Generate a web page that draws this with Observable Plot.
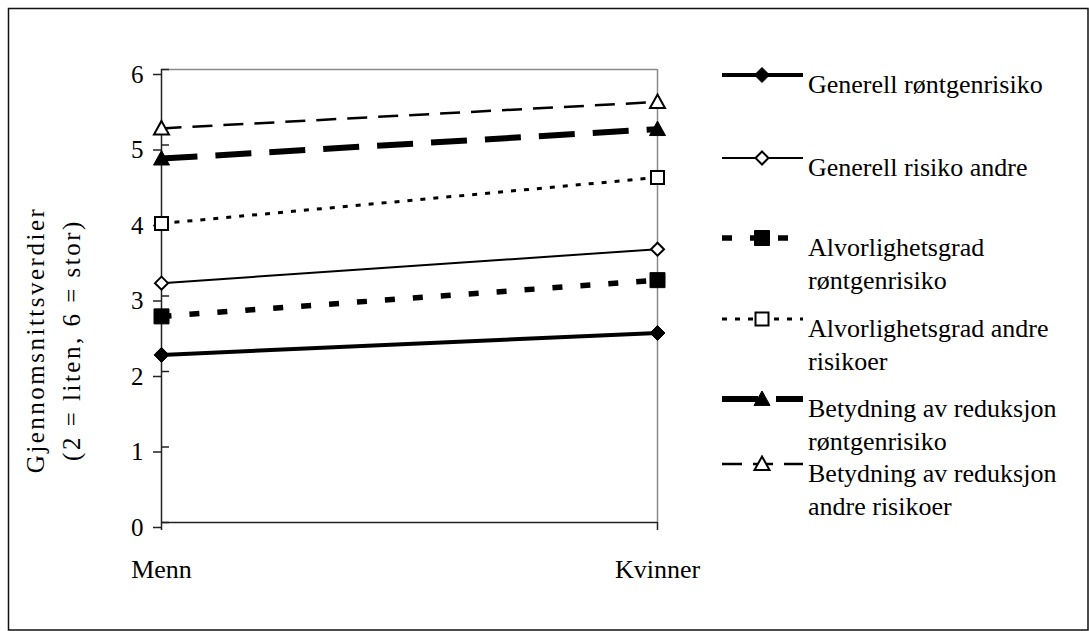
<!DOCTYPE html>
<html>
<head>
<meta charset="utf-8">
<script src="https://cdn.jsdelivr.net/npm/d3@7"></script>
<script src="https://cdn.jsdelivr.net/npm/@observablehq/plot@0.6"></script>
<style>
  html, body { margin: 0; padding: 0; background: #fff; }
  #chart svg { display: block; }
</style>
</head>
<body>
<div id="chart"></div>
<script>
// Gender groups on the x axis
const categories = ["Menn", "Kvinner"];

// Series names (legend order)
const seriesNames = [
  "Generell røntgenrisiko",
  "Generell risiko andre",
  "Alvorlighetsgrad røntgenrisiko",
  "Alvorlighetsgrad andre risikoer",
  "Betydning av reduksjon røntgenrisiko",
  "Betydning av reduksjon andre risikoer"
];

// Legend text, wrapped as in the legend column
const legendLines = [
  ["Generell røntgenrisiko"],
  ["Generell risiko andre"],
  ["Alvorlighetsgrad", "røntgenrisiko"],
  ["Alvorlighetsgrad andre", "risikoer"],
  ["Betydning av reduksjon", "røntgenrisiko"],
  ["Betydning av reduksjon", "andre risikoer"]
];

// Mean values (Menn, Kvinner)
const generellRontgen   = [2.22, 2.51];
const generellAndre     = [3.17, 3.62];
const alvorRontgen      = [2.73, 3.21];
const alvorAndre        = [3.96, 4.57];
const betydningRontgen  = [4.82, 5.21];
const betydningAndre    = [5.22, 5.57];

const yTicks = [0, 1, 2, 3, 4, 5, 6];
const yTitle = ["Gjennomsnittsverdier", "(2 = liten, 6 = stor)"];

const seriesValues = [generellRontgen, generellAndre, alvorRontgen, alvorAndre, betydningRontgen, betydningAndre];

// Marker shapes; half-width equals the radius Plot derives from the size
const diamond = { draw(ctx, size) { const r = Math.sqrt(size / Math.PI);
  ctx.moveTo(0, -r); ctx.lineTo(r, 0); ctx.lineTo(0, r); ctx.lineTo(-r, 0); ctx.closePath(); } };
const square = { draw(ctx, size) { const r = Math.sqrt(size / Math.PI);
  ctx.rect(-r, -r, 2 * r, 2 * r); } };
const triangle = { draw(ctx, size) { const r = Math.sqrt(size / Math.PI);
  ctx.moveTo(0, -r); ctx.lineTo(r, 0.8 * r); ctx.lineTo(-r, 0.8 * r); ctx.closePath(); } };

// Line and marker styling per series
const styles = [
  { width: 4,   dash: null,    symbol: diamond,  r: 7.5, fill: "black", sw: 1 },
  { width: 2,   dash: null,    symbol: diamond,  r: 6.5, fill: "white", sw: 2 },
  { width: 5.5, dash: "10,18", symbol: square,   r: 7.5, fill: "black", sw: 1 },
  { width: 3,   dash: "5,8",   symbol: square,   r: 6.5, fill: "white", sw: 2 },
  { width: 6,   dash: "36,18", symbol: triangle, r: 8,   fill: "black", sw: 1 },
  { width: 2.5, dash: "20,11", symbol: triangle, r: 7.5, fill: "white", sw: 2 }
];

const rows = seriesNames.map((name, i) =>
  categories.map((c, j) => ({ series: name, kategori: c, verdi: seriesValues[i][j] }))
);

const W = 1089, H = 631;
const font = "'Liberation Serif', 'Times New Roman', serif";
const axisColor = "#222";

const marks = [
  // plot frame (top and right, grey)
  Plot.ruleY([6], { stroke: "#8a8a8a", strokeWidth: 1.5 }),
  Plot.ruleX(["Kvinner"], { stroke: "#8a8a8a", strokeWidth: 1.5 }),
  // axis lines
  Plot.ruleX(["Menn"], { stroke: axisColor, strokeWidth: 1.5 }),
  Plot.ruleY([0], { stroke: axisColor, strokeWidth: 1.5 }),
  // y ticks crossing the axis
  Plot.axisY({ ticks: yTicks, tickSize: 8, tickPadding: 10, tickFormat: d3.format("d"),
               fontSize: 25, dy: 5, stroke: axisColor, strokeWidth: 1.5, label: null }),
  Plot.axisY({ ticks: yTicks, tickSize: -8, tickFormat: () => "", stroke: axisColor,
               strokeWidth: 1.5, label: null }),
  // x ticks and category labels
  Plot.axisX({ tickSize: 8, tickPadding: 29, fontSize: 26, stroke: axisColor,
               strokeWidth: 1.5, label: null })
];

rows.forEach((data, i) => {
  const s = styles[i];
  marks.push(Plot.line(data, { x: "kategori", y: "verdi", stroke: "black",
    strokeWidth: s.width, strokeDasharray: s.dash, strokeLinecap: "butt" }));
});
rows.forEach((data, i) => {
  const s = styles[i];
  marks.push(Plot.dot(data, { x: "kategori", y: "verdi", symbol: s.symbol, r: s.r,
    fill: s.fill, stroke: "black", strokeWidth: s.sw }));
});

const chart = Plot.plot({
  width: W,
  height: H,
  marginLeft: 161,
  marginRight: W - 657,
  marginTop: 69,
  marginBottom: H - 522,
  style: { fontFamily: font, fontSize: "25px", color: "black", background: "white", overflow: "visible" },
  x: { type: "point", domain: categories, padding: 0, label: null },
  y: { domain: [0, 6], label: null },
  marks
});

document.getElementById("chart").appendChild(chart);

// Outer border, y title and legend
const svg = d3.select(chart);

svg.append("rect")
  .attr("x", 8.5).attr("y", 8.5)
  .attr("width", W - 9.5).attr("height", H - 9.5)
  .attr("fill", "none").attr("stroke", "#111").attr("stroke-width", 1.5);

const titleBaselines = [44, 80];
yTitle.forEach((t, k) => {
  svg.append("text")
    .attr("transform", `translate(${titleBaselines[k]},340) rotate(-90)`)
    .attr("text-anchor", "middle")
    .attr("font-family", font)
    .attr("font-size", 25)
    .attr("letter-spacing", 2.5)
    .attr("fill", "black")
    .text(t);
});

const legendRowY = [75, 158, 238, 319, 399, 464];
const lx0 = 722, lx1 = 803, lmx = 762, tx = 808;
const legend = svg.append("g").attr("text-anchor", "start");
styles.forEach((s, i) => {
  const y = legendRowY[i];
  legend.append("line")
    .attr("x1", lx0).attr("x2", lx1).attr("y1", y).attr("y2", y)
    .attr("stroke", "black").attr("stroke-width", s.width)
    .attr("stroke-dasharray", s.dash);
  legend.append("path")
    .attr("transform", `translate(${lmx},${y})`)
    .attr("d", d3.symbol(s.symbol, Math.PI * s.r * s.r)())
    .attr("fill", s.fill).attr("stroke", "black").attr("stroke-width", s.sw);
  legendLines[i].forEach((line, k) => {
    legend.append("text")
      .attr("x", tx).attr("y", y + 18 + k * 33)
      .attr("text-anchor", "start")
      .attr("font-family", font).attr("font-size", 26)
      .attr("fill", "black")
      .text(line);
  });
});
</script>
</body>
</html>
